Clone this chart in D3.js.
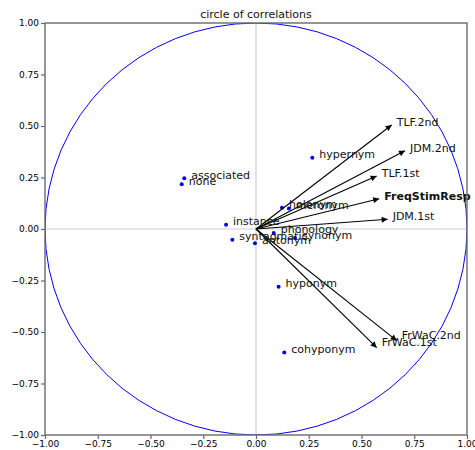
<!DOCTYPE html>
<html>
<head>
<meta charset="utf-8">
<script src="https://cdn.jsdelivr.net/npm/d3@7"></script>
<style>
  html, body { margin: 0; padding: 0; background: #fff; }
  svg { display: block; font-family: "DejaVu Sans", sans-serif; }
</style>
</head>
<body>
<svg id="chart" width="475" height="450"></svg>
<script>
// ---- data ----
const title = "circle of correlations";
const tickValues = [-1, -0.75, -0.5, -0.25, 0, 0.25, 0.5, 0.75, 1];

const varNames = ["TLF.2nd", "JDM.2nd", "TLF.1st", "FreqStimResp", "JDM.1st", "FrWaC.2nd", "FrWaC.1st"];
const varX = [0.643, 0.706, 0.572, 0.584, 0.624, 0.667, 0.572];
const varY = [0.505, 0.380, 0.257, 0.147, 0.047, -0.542, -0.576];
const boldVar = "FreqStimResp";

const pointNames = ["associated", "none", "hypernym", "holonym", "meronym", "instance",
                    "phonology", "synonym", "syntagmatic", "antonym", "hyponym", "cohyponym"];
const pointX = [-0.340, -0.352, 0.267, 0.123, 0.156, -0.142, 0.084, 0.185, -0.112, -0.005, 0.107, 0.134];
const pointY = [0.246, 0.217, 0.346, 0.103, 0.099, 0.021, -0.019, -0.044, -0.052, -0.069, -0.280, -0.599];

// ---- layout ----
const W = 475, H = 450;
const pLeft = 45, pRight = 467, pTop = 23, pBottom = 435;

const svg = d3.select("#chart");
const x = d3.scaleLinear().domain([-1, 1]).range([pLeft, pRight]);
const y = d3.scaleLinear().domain([-1, 1]).range([pBottom, pTop]);

const defs = svg.append("defs");
defs.append("clipPath").attr("id", "plotclip")
  .append("rect").attr("x", pLeft).attr("y", pTop)
  .attr("width", pRight - pLeft).attr("height", pBottom - pTop);
defs.append("marker")
  .attr("id", "arrowhead")
  .attr("viewBox", "0 0 10 10")
  .attr("refX", 10).attr("refY", 5)
  .attr("markerWidth", 7).attr("markerHeight", 6)
  .attr("markerUnits", "userSpaceOnUse")
  .attr("orient", "auto")
  .append("path").attr("d", "M0,0 L10,5 L0,10 Z").attr("fill", "#000");

const plot = svg.append("g").attr("clip-path", "url(#plotclip)");

// zero lines
plot.append("line")
  .attr("x1", x(0)).attr("x2", x(0)).attr("y1", pTop).attr("y2", pBottom)
  .attr("stroke", "#cfcfcf").attr("stroke-width", 1.2);
plot.append("line")
  .attr("x1", pLeft).attr("x2", pRight).attr("y1", y(0)).attr("y2", y(0))
  .attr("stroke", "#cfcfcf").attr("stroke-width", 1.2);

// unit circle
plot.append("ellipse")
  .attr("cx", x(0)).attr("cy", y(0))
  .attr("rx", x(1) - x(0)).attr("ry", y(0) - y(1))
  .attr("fill", "none").attr("stroke", "#0000ff").attr("stroke-width", 1);

// points
const points = pointNames.map((n, i) => ({ name: n, x: pointX[i], y: pointY[i] }));
plot.selectAll("circle.pt").data(points).enter().append("circle")
  .attr("class", "pt")
  .attr("cx", d => x(d.x)).attr("cy", d => y(d.y)).attr("r", 2)
  .attr("fill", "#0000ff");
svg.selectAll("text.ptlab").data(points).enter().append("text")
  .attr("class", "ptlab")
  .attr("x", d => x(d.x) + 7).attr("y", d => y(d.y) + 0.5)
  .attr("font-size", 11).attr("fill", "#111")
  .text(d => d.name);

// arrows
const vars = varNames.map((n, i) => ({ name: n, x: varX[i], y: varY[i] }));
plot.selectAll("line.arr").data(vars).enter().append("line")
  .attr("class", "arr")
  .attr("x1", x(0)).attr("y1", y(0))
  .attr("x2", d => x(d.x)).attr("y2", d => y(d.y))
  .attr("stroke", "#000").attr("stroke-width", 1.1)
  .attr("marker-end", "url(#arrowhead)");
svg.selectAll("text.varlab").data(vars).enter().append("text")
  .attr("class", "varlab")
  .attr("x", d => x(d.x) + 5).attr("y", d => y(d.y) + (d.y < 0 ? -2 : 1))
  .attr("font-size", 11).attr("fill", "#111")
  .attr("font-weight", d => d.name === boldVar ? "bold" : "normal")
  .text(d => d.name);

// axes
const fmt = d3.format(".2f");
const xAxis = svg.append("g").attr("transform", `translate(0,${pBottom})`)
  .call(d3.axisBottom(x).tickValues(tickValues).tickFormat(fmt).tickSize(4).tickPadding(2));
const yAxis = svg.append("g").attr("transform", `translate(${pLeft},0)`)
  .call(d3.axisLeft(y).tickValues(tickValues).tickFormat(fmt).tickSize(4).tickPadding(2));
[xAxis, yAxis].forEach(a => {
  a.select(".domain").remove();
  a.selectAll(".tick line").attr("stroke", "#666").attr("stroke-width", 1.2);
  a.selectAll(".tick text").attr("font-size", 9).attr("fill", "#000")
    .attr("font-family", "DejaVu Sans, sans-serif");
});

// frame
svg.append("rect")
  .attr("x", pLeft).attr("y", pTop)
  .attr("width", pRight - pLeft).attr("height", pBottom - pTop)
  .attr("fill", "none").attr("stroke", "#6a6a6a").attr("stroke-width", 1.4);

// title
svg.append("text")
  .attr("x", (pLeft + pRight) / 2).attr("y", 18)
  .attr("text-anchor", "middle").attr("font-size", 11).attr("fill", "#111")
  .text(title);
</script>
</body>
</html>
